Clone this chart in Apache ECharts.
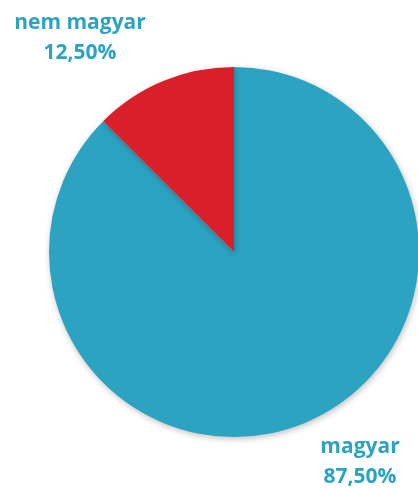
<!DOCTYPE html>
<html>
<head>
<meta charset="utf-8">
<script src="https://cdn.jsdelivr.net/npm/echarts@6/dist/echarts.min.js"></script>
<style>
html,body{margin:0;padding:0;background:#fff;}
#main{width:418px;height:488px;}
</style>
</head>
<body>
<div id="main"></div>
<script>
var names = ['magyar', 'nem magyar'] ;
var values = [87.5, 12.5] ;
var colors = ['#2ca3c1', '#d91f2a'] ;

// label anchor points (px), one per slice
var labelPos = [[360, 462], [80, 38]] ;

function fmt(v)
{
	return v.toFixed(2).replace('.', ',') + '%' ;
}

var data = [] ;
for( var i = 0 ; i < names.length ; i++ )
{
	data.push( { value : values[i], name : names[i], itemStyle : { color : colors[i] } } ) ;
}

var option = {
	backgroundColor : '#fff',
	animation : false,
	series : [
		{
			type : 'pie',
			radius : 185,
			center : [234, 252],
			startAngle : 90,
			clockwise : true,
			data : data,
			itemStyle : {
				borderWidth : 0,
				shadowBlur : 6,
				shadowColor : 'rgba(0,0,0,0.25)',
				shadowOffsetX : 1,
				shadowOffsetY : 2
			},
			label : {
				show : true,
				position : 'outside',
				formatter : function (p) { return p.name + '\n' + fmt(p.value) ; },
				color : '#2ca3c1',
				fontFamily : 'Open Sans',
				fontWeight : 'bold',
				fontSize : 21,
				lineHeight : 30,
				align : 'center',
				overflow : 'none',
				width : 200
			},
			labelLine : { show : false },
			labelLayout : function (params)
			{
				var p = labelPos[params.dataIndex] ;
				return { x : p[0], y : p[1], align : 'center', verticalAlign : 'middle' } ;
			}
		}
	]
};

var myChart = echarts.init( document.getElementById('main') ) ;
myChart.setOption(option) ;
</script>
</body>
</html>
